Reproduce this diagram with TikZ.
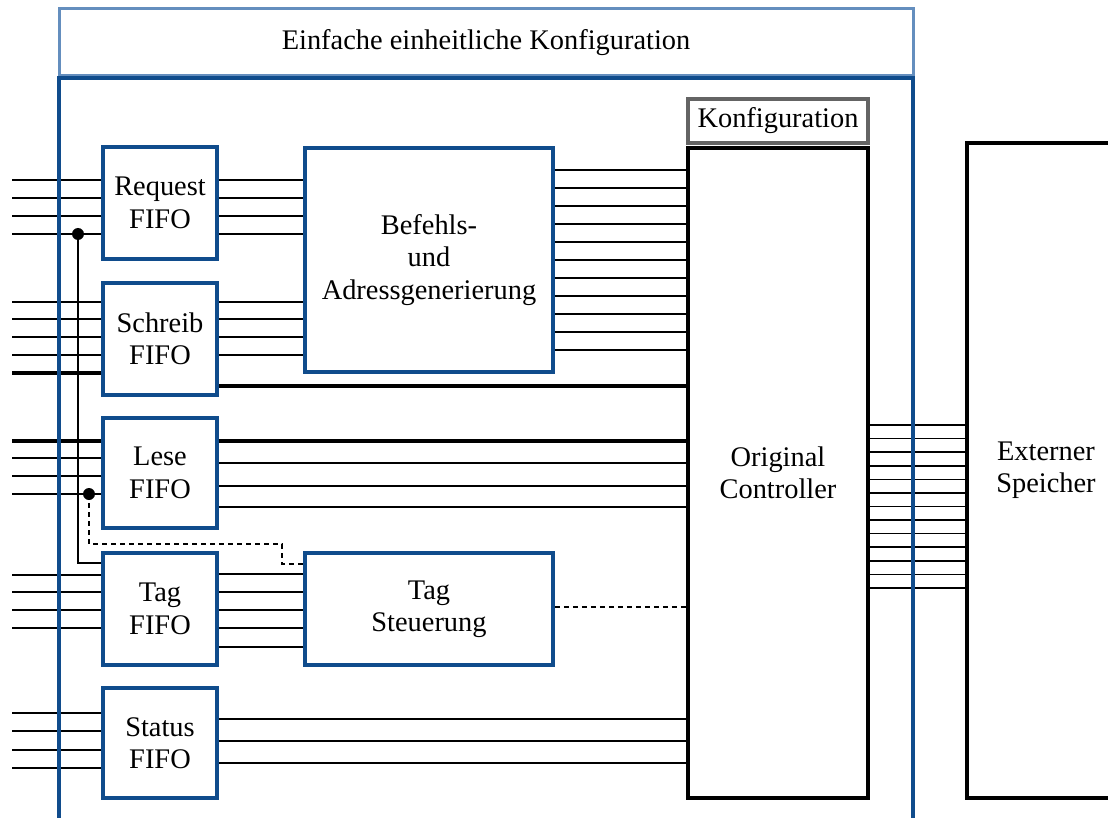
\documentclass[tikz,border=0pt]{standalone}
\usepackage{fontspec}
\setmainfont{Liberation Serif}
\definecolor{rahmenblau}{RGB}{16,76,140}
\definecolor{hellblau}{RGB}{100,142,190}
\definecolor{konfgrau}{RGB}{100,100,100}
\tikzset{
  fifo/.style={draw=rahmenblau, line width=1.8pt, fill=white, align=center,
    minimum width=57pt, minimum height=56pt, inner sep=0pt},
  block/.style={draw=rahmenblau, line width=1.8pt, fill=white, align=center,
    minimum width=124pt, inner sep=0pt},
  ctrlbox/.style={draw=black, line width=1.8pt, fill=white, align=center,
    minimum width=90pt, inner sep=0pt},
  konfbox/.style={draw=konfgrau, line width=1.8pt, align=center,
    minimum width=90pt, minimum height=22pt, inner sep=0pt},
  titelbox/.style={draw=hellblau, line width=1.5pt, minimum width=427pt,
    minimum height=33.5pt, inner sep=0pt},
  wire/.style={line width=0.8pt, black},
  bus/.style={line width=1.6pt, black},
  gestrichelt/.style={line width=0.8pt, black, dash pattern=on 2.5pt off 2pt},
  rahmen/.style={draw=rahmenblau, line width=1.8pt},
}
\begin{document}
\begin{tikzpicture}[x=0.5pt, y=-0.5pt, font=\fontsize{14.2}{16.2}\selectfont]
\useasboundingbox (0,0) rectangle (1108,818);
% Bloecke
\node[titelbox] (titel) at (486,42.5) {Einfache einheitliche Konfiguration};
\node[fifo] (request) at (160,203) {Request\\FIFO};
\node[fifo] (schreib) at (160,339) {Schreib\\FIFO};
\node[fifo, minimum height=55pt] (lese) at (160,473) {Lese\\FIFO};
\node[fifo] (tagfifo) at (160,609) {Tag\\FIFO};
\node[fifo, minimum height=55pt] (status) at (160,743) {Status\\FIFO};
\node[block, minimum height=112pt] (befehl) at (429,260) {Befehls-\\und\\Adressgenerierung};
\node[block, minimum height=56pt] (tagst) at (429,609) {Tag\\Steuerung};
\node[konfbox] (konf) at (778,121) {Konfiguration};
\node[ctrlbox, minimum height=325pt] (ctrl) at (778,473) {Original\\Controller};
\node[ctrlbox, minimum width=79pt, minimum height=327.5pt] (speicher) at (1046,470.5) {Externer\\Speicher};
% Eingaenge links
\foreach \y in {180,198,216,234}
  \draw[wire] (request.west |- 0,\y) -- ++(-89,0);
\foreach \y in {302,319,337,355}
  \draw[wire] (schreib.west |- 0,\y) -- ++(-89,0);
\draw[bus] (schreib.west |- 0,373) -- ++(-89,0);
\draw[bus] (lese.west |- 0,441) -- ++(-89,0);
\foreach \y in {458,476,494}
  \draw[wire] (lese.west |- 0,\y) -- ++(-89,0);
\foreach \y in {575,592,610,628}
  \draw[wire] (tagfifo.west |- 0,\y) -- ++(-89,0);
\foreach \y in {713,731,750,768}
  \draw[wire] (status.west |- 0,\y) -- ++(-89,0);
% Abzweige
\coordinate (abzw1) at (78,234);
\coordinate (abzw2) at (89,494);
\fill (abzw1) circle (3pt);
\fill (abzw2) circle (3pt);
\draw[wire] (abzw1) |- (tagfifo.west |- 0,563);
\draw[gestrichelt] (abzw2) |- (282,544) |- (tagst.west |- 0,564);
% Verbindungen innen
\foreach \y in {180,198,216,234}
  \draw[wire] (request.east |- 0,\y) -- (befehl.west |- 0,\y);
\foreach \y in {302,319,337,355}
  \draw[wire] (schreib.east |- 0,\y) -- (befehl.west |- 0,\y);
\draw[bus] (schreib.east |- 0,386) -- (ctrl.west |- 0,386);
\draw[bus] (lese.east |- 0,441) -- (ctrl.west |- 0,441);
\foreach \y in {463,486,507}
  \draw[wire] (lese.east |- 0,\y) -- (ctrl.west |- 0,\y);
\foreach \y in {574,592,610,628,647}
  \draw[wire] (tagfifo.east |- 0,\y) -- (tagst.west |- 0,\y);
\draw[gestrichelt] (tagst.east |- 0,607) -- (ctrl.west |- 0,607);
\foreach \y in {719,741,763}
  \draw[wire] (status.east |- 0,\y) -- (ctrl.west |- 0,\y);
\foreach \y in {170,188,...,350}
  \draw[wire] (befehl.east |- 0,\y) -- (ctrl.west |- 0,\y);
% Speicherbus
\foreach \i in {0,...,12}
  \draw[wire] (ctrl.east |- 0,425+13.58*\i) -- (speicher.west |- 0,425+13.58*\i);
% aeusserer Rahmen
\draw[rahmen] (59,840) |- (913,78) -- (913,840);
\end{tikzpicture}
\end{document}
